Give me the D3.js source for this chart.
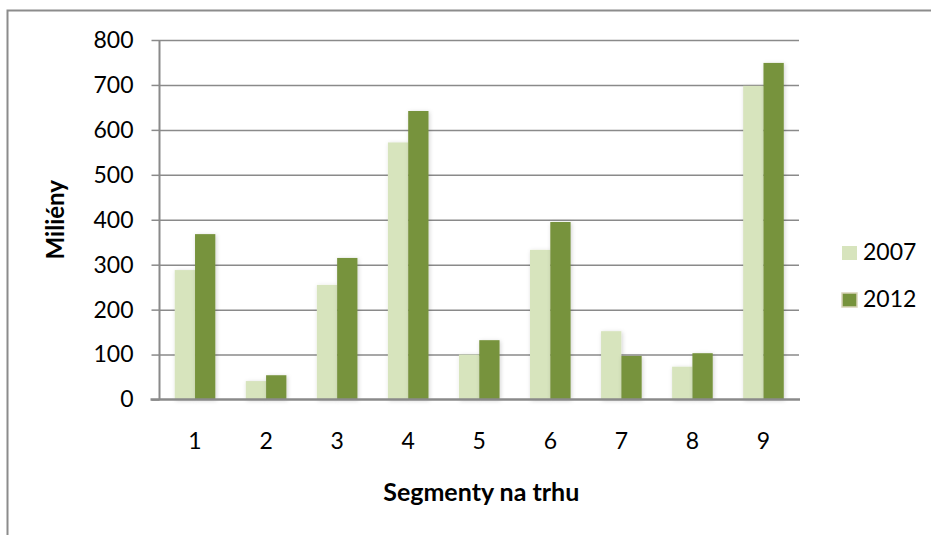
<!DOCTYPE html>
<html>
<head>
<meta charset="utf-8">
<script src="https://cdn.jsdelivr.net/npm/d3@7"></script>
<style>
  html, body { margin: 0; padding: 0; background: #ffffff; }
  svg { display: block; font-family: Lato, "Open Sans", sans-serif; }
</style>
</head>
<body>
<svg id="chart" width="931" height="535"></svg>
<script>
// Market segments and values (millions) for the two years
const segments = ["1", "2", "3", "4", "5", "6", "7", "8", "9"];
const seriesNames = ["2007", "2012"];
const values2007 = [288, 41, 255, 572, 100, 333, 152, 73, 698];
const values2012 = [368, 54, 315, 642, 132, 395, 97, 103, 749];
const yTicks = [0, 100, 200, 300, 400, 500, 600, 700, 800];
const yTitle = "Miliény";
const xTitle = "Segmenty na trhu";

const colors = { "2007": "#d7e4bd", "2012": "#77933c" };
const series = [values2007, values2012];

const svg = d3.select("#chart");
const W = 931, H = 535;

// chart frame (right and bottom edges fall outside the page)
svg.append("rect")
  .attr("x", 7.5).attr("y", 10.5)
  .attr("width", W + 20).attr("height", H + 20)
  .attr("fill", "#fff").attr("stroke", "#8c8c8c").attr("stroke-width", 2);

const plot = { left: 159.5, right: 799, top: 40, bottom: 399.5 };

const defs = svg.append("defs");
const f = defs.append("filter").attr("id", "barShadow")
  .attr("x", "-30%").attr("y", "-10%").attr("width", "160%").attr("height", "120%");
f.append("feDropShadow").attr("dx", 1).attr("dy", 1)
  .attr("stdDeviation", 2).attr("flood-color", "#000").attr("flood-opacity", 0.18);

const x = d3.scaleBand().domain(segments)
  .range([plot.left, plot.right])
  .paddingInner(0.4286).paddingOuter(0.2143);
const xInner = d3.scaleBand().domain(seriesNames).range([0, x.bandwidth()]);
const y = d3.scaleLinear().domain([0, 800]).range([plot.bottom, plot.top]);

// horizontal gridlines
const grid = svg.append("g").attr("transform", `translate(${plot.left},0)`)
  .call(d3.axisLeft(y).tickValues(yTicks.slice(1)).tickSize(-(plot.right - plot.left)).tickFormat(""));
grid.select(".domain").remove();
grid.selectAll("line").attr("stroke", "#8a8a8a").attr("stroke-width", 1.5);

// bars
seriesNames.forEach((name, si) => {
  svg.append("g").attr("filter", "url(#barShadow)")
    .selectAll("rect").data(segments).join("rect")
    .attr("x", (d, i) => x(d) + xInner(name))
    .attr("width", xInner.bandwidth())
    .attr("y", (d, i) => y(series[si][i]))
    .attr("height", (d, i) => y(0) - y(series[si][i]))
    .attr("fill", colors[name]);
});

// y axis
const yAxis = svg.append("g").attr("transform", `translate(${plot.left},0)`)
  .call(d3.axisLeft(y).tickValues(yTicks).tickSize(8).tickPadding(18));
yAxis.select(".domain").attr("d", `M0,${plot.top}V${plot.bottom}`)
  .attr("stroke", "#8a8a8a").attr("stroke-width", 2);
yAxis.selectAll("line").attr("stroke", "#8a8a8a").attr("stroke-width", 1.5);
yAxis.selectAll("text").attr("font-size", 23).attr("fill", "#000")
  .attr("font-family", "Lato, sans-serif");

// x axis
const xAxis = svg.append("g").attr("transform", `translate(0,${plot.bottom})`)
  .call(d3.axisBottom(x).tickSize(0).tickPadding(33));
xAxis.select(".domain").attr("d", `M${plot.left - 9},0H${plot.right + 1}`)
  .attr("stroke", "#8a8a8a").attr("stroke-width", 2.5);
xAxis.selectAll("text").attr("font-size", 23).attr("fill", "#000")
  .attr("font-family", "Lato, sans-serif");

// axis titles
svg.append("text")
  .attr("transform", `translate(64,${(plot.top + plot.bottom) / 2}) rotate(-90)`)
  .attr("text-anchor", "middle")
  .attr("font-size", 24).attr("font-weight", "bold").attr("fill", "#000")
  .text(yTitle);
svg.append("text")
  .attr("x", (plot.left + plot.right) / 2 + 2).attr("y", 501)
  .attr("text-anchor", "middle")
  .attr("font-size", 25).attr("font-weight", "bold").attr("fill", "#000")
  .text(xTitle);

// legend
const legend = svg.append("g");
seriesNames.forEach((name, i) => {
  const yy = 246 + i * 47;
  legend.append("rect")
    .attr("x", 842).attr("y", yy).attr("width", 15).attr("height", 14)
    .attr("fill", colors[name])
    .attr("stroke", i === 1 ? "#d9d4b8" : "none").attr("stroke-width", 1.5);
  legend.append("text")
    .attr("x", 863).attr("y", yy + 14)
    .attr("font-size", 23).attr("fill", "#000")
    .text(name);
});
</script>
</body>
</html>
